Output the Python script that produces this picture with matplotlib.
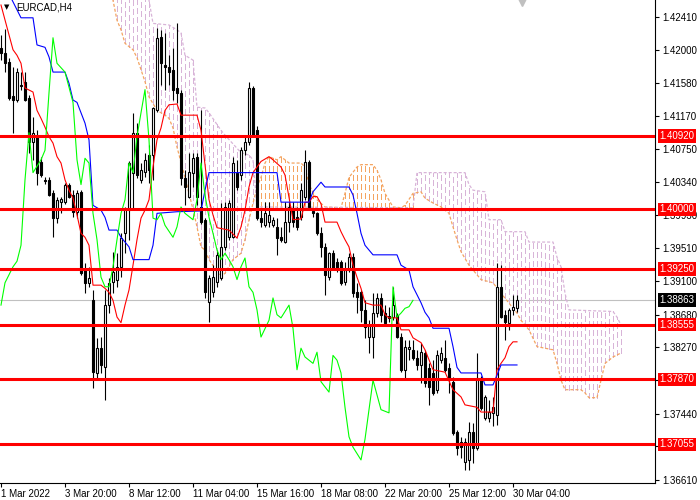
import numpy as np
import matplotlib
matplotlib.use("Agg")
import matplotlib.pyplot as plt
from matplotlib.lines import Line2D

plt.rcParams['font.family'] = ['Liberation Sans', 'DejaVu Sans']
plt.rcParams['lines.scale_dashes'] = False

symbol = "EURCAD,H4"

opens = [1.42022, 1.41958, 1.41846, 1.41420, 1.41370, 1.41546, 1.41596, 1.41395, 1.40844, 1.40906,
         1.40593, 1.40368, 1.40368, 1.40204, 1.39892, 1.40092, 1.40092, 1.40305, 1.40179, 1.39967,
         1.40217, 1.39240, 1.39077, 1.38864, 1.37949, 1.38263, 1.38024, 1.38801, 1.39090, 1.39115,
         1.39277, 1.39703, 1.39992, 1.40455, 1.40956, 1.40368, 1.40468, 1.40680, 1.40680, 1.41245,
         1.42159, 1.41808, 1.41783, 1.41746, 1.41521, 1.41457, 1.40393, 1.40154, 1.40455, 1.40655,
         1.40029, 1.39866, 1.38839, 1.38964, 1.39090, 1.39140, 1.39528, 1.39653, 1.39653, 1.40455,
         1.40430, 1.40743, 1.40844, 1.41521, 1.40994, 1.39892, 1.39803, 1.39841, 1.39803, 1.39778,
         1.39653, 1.39591, 1.39841, 1.40017, 1.39904, 1.39904, 1.40154, 1.40593, 1.39979, 1.39954,
         1.39703, 1.39528, 1.39152, 1.39452, 1.39340, 1.39340, 1.39090, 1.39240, 1.39402, 1.38964,
         1.38964, 1.38739, 1.38400, 1.38400, 1.38701, 1.38889, 1.38701, 1.38664, 1.38651, 1.38676,
         1.38400, 1.37987, 1.38250, 1.38237, 1.38137, 1.38049, 1.38199, 1.38012, 1.37949, 1.37736,
         1.38112, 1.38137, 1.38012, 1.37837, 1.37210, 1.37085, 1.36834, 1.36859, 1.37210, 1.37010,
         1.37887, 1.37385, 1.37385, 1.37448, 1.37423, 1.39027, 1.38676, 1.38575, 1.38739, 1.38764]
highs = [1.42184, 1.42259, 1.41896, 1.41783, 1.41771, 1.41721, 1.41721, 1.41432, 1.41157, 1.40994,
         1.40655, 1.40405, 1.40405, 1.40242, 1.40154, 1.40154, 1.40330, 1.40330, 1.40242, 1.40242,
         1.40242, 1.39327, 1.39277, 1.38989, 1.38388, 1.38400, 1.38989, 1.39140, 1.39465, 1.39452,
         1.39703, 1.40029, 1.40600, 1.41207, 1.41081, 1.40580, 1.40705, 1.40806, 1.41282, 1.42272,
         1.42247, 1.42209, 1.41933, 1.42022, 1.42334, 1.41495, 1.40493, 1.40705, 1.40705, 1.40705,
         1.41245, 1.39892, 1.39177, 1.39302, 1.39490, 1.40079, 1.40092, 1.40117, 1.40655, 1.40618,
         1.40781, 1.40931, 1.41596, 1.41546, 1.41044, 1.39992, 1.40092, 1.40092, 1.39904, 1.39892,
         1.39778, 1.40092, 1.40092, 1.40092, 1.40029, 1.40330, 1.40743, 1.40618, 1.40017, 1.39967,
         1.39778, 1.39578, 1.39465, 1.39490, 1.39390, 1.39365, 1.39340, 1.39452, 1.39452, 1.39077,
         1.38989, 1.38864, 1.38613, 1.38951, 1.38951, 1.38951, 1.38801, 1.38776, 1.39027, 1.38701,
         1.38450, 1.38363, 1.38363, 1.38363, 1.38237, 1.38325, 1.38237, 1.38074, 1.38112, 1.38237,
         1.38275, 1.38363, 1.38074, 1.37899, 1.37235, 1.37148, 1.37135, 1.37335, 1.37323, 1.38199,
         1.37912, 1.37673, 1.37611, 1.37648, 1.39327, 1.39302, 1.38739, 1.38764, 1.38926, 1.38926]
lows = [1.41871, 1.41721, 1.41370, 1.40956, 1.41345, 1.41495, 1.41357, 1.40705, 1.40618, 1.40305,
        1.40405, 1.40318, 1.40167, 1.39653, 1.39828, 1.39954, 1.40067, 1.40142, 1.39904, 1.39892,
        1.39177, 1.38951, 1.39027, 1.37762, 1.37862, 1.37949, 1.37611, 1.38701, 1.38951, 1.39027,
        1.39152, 1.39452, 1.39616, 1.39992, 1.40393, 1.40330, 1.40405, 1.40330, 1.40368, 1.41220,
        1.41558, 1.41495, 1.41558, 1.41370, 1.41332, 1.40305, 1.40054, 1.40142, 1.40280, 1.40054,
        1.39816, 1.38889, 1.38588, 1.38901, 1.39027, 1.39115, 1.39490, 1.39616, 1.39641, 1.40242,
        1.40368, 1.40680, 1.40806, 1.40906, 1.39866, 1.39778, 1.39778, 1.39778, 1.39778, 1.39427,
        1.39591, 1.39578, 1.39716, 1.39778, 1.39741, 1.39866, 1.40117, 1.39992, 1.39904, 1.39678,
        1.39402, 1.38926, 1.39115, 1.39240, 1.39215, 1.39052, 1.39052, 1.39215, 1.38901, 1.38701,
        1.38588, 1.38388, 1.38199, 1.38137, 1.38651, 1.38588, 1.38550, 1.38588, 1.38613, 1.38388,
        1.37962, 1.37862, 1.38112, 1.38112, 1.37987, 1.37824, 1.37774, 1.37548, 1.37673, 1.37698,
        1.38074, 1.37962, 1.37698, 1.37172, 1.36922, 1.36884, 1.36734, 1.36734, 1.36822, 1.36985,
        1.37486, 1.37360, 1.37335, 1.37285, 1.37298, 1.38639, 1.38363, 1.38488, 1.38676, 1.38714]
closes = [1.41958, 1.41833, 1.41395, 1.41370, 1.41721, 1.41558, 1.41370, 1.40844, 1.40956, 1.40455,
          1.40430, 1.40355, 1.40179, 1.39892, 1.40117, 1.40129, 1.40305, 1.40154, 1.39967, 1.40204,
          1.39202, 1.39077, 1.39140, 1.37962, 1.38263, 1.38049, 1.38801, 1.39077, 1.39215, 1.39277,
          1.39641, 1.40004, 1.40580, 1.40956, 1.40430, 1.40493, 1.40618, 1.40493, 1.41270, 1.42147,
          1.41833, 1.41783, 1.41721, 1.41495, 1.41457, 1.40393, 1.40280, 1.40468, 1.40643, 1.40154,
          1.39841, 1.38964, 1.39140, 1.39152, 1.39427, 1.39528, 1.40029, 1.40079, 1.40580, 1.40280,
          1.40743, 1.40844, 1.41521, 1.40931, 1.39892, 1.39841, 1.39954, 1.39929, 1.39866, 1.39641,
          1.39616, 1.39841, 1.40029, 1.39841, 1.39778, 1.40242, 1.40593, 1.40029, 1.39954, 1.39703,
          1.39528, 1.39177, 1.39452, 1.39265, 1.39265, 1.39077, 1.39240, 1.39402, 1.38951, 1.38901,
          1.38739, 1.38525, 1.38550, 1.38701, 1.38889, 1.38676, 1.38575, 1.38639, 1.38801, 1.38400,
          1.37987, 1.38275, 1.38275, 1.38137, 1.38049, 1.38212, 1.37824, 1.37774, 1.37698, 1.38174,
          1.38199, 1.37987, 1.37862, 1.37197, 1.37010, 1.37022, 1.37085, 1.37210, 1.37010, 1.37887,
          1.37511, 1.37648, 1.37461, 1.37523, 1.39027, 1.38651, 1.38588, 1.38739, 1.38776, 1.38863]

# Ichimoku lines (vertices: bar index, price)
tenkan_x = [0, 3, 4, 5, 6, 8, 9, 10, 11, 12, 13, 14, 15, 16, 17, 18, 19, 20, 21, 22, 23, 25, 26, 27, 28,
            29, 30, 31, 32, 33, 34, 35, 36, 37, 38, 39, 40, 41, 42, 44, 45, 49, 50, 51, 52, 53, 54, 57,
            59, 60, 61, 62, 63, 65, 67, 68, 70, 71, 72, 73, 75, 76, 77, 78, 79, 80, 81, 84, 85, 86, 87,
            88, 89, 90, 91, 93, 95, 96, 97, 99, 100, 102, 103, 105, 106, 108, 111, 113, 115, 116, 119,
            120, 123, 124, 125, 126, 127, 128, 129]
tenkan_v = [1.4256, 1.4200, 1.4193, 1.4183, 1.4152, 1.4147, 1.4124, 1.4114, 1.4103, 1.4091, 1.4083,
            1.4066, 1.4058, 1.4037, 1.4024, 1.4014, 1.3993, 1.3970, 1.3965, 1.3955, 1.3905, 1.3905,
            1.3901, 1.3896, 1.3886, 1.3865, 1.3858, 1.3880, 1.3899, 1.3930, 1.3962, 1.3989, 1.3999,
            1.4012, 1.4053, 1.4087, 1.4102, 1.4124, 1.4131, 1.4132, 1.4118, 1.4118, 1.4099, 1.4056,
            1.4012, 1.3993, 1.3977, 1.3974, 1.3964, 1.3978, 1.3999, 1.4028, 1.4046, 1.4060, 1.4066,
            1.4062, 1.4053, 1.4043, 1.4015, 1.3987, 1.3988, 1.4009, 1.4009, 1.4016, 1.4016, 1.4007,
            1.3984, 1.3984, 1.3972, 1.3962, 1.3953, 1.3930, 1.3915, 1.3901, 1.3883, 1.3880, 1.3880,
            1.3868, 1.3864, 1.3864, 1.3849, 1.3849, 1.3839, 1.3833, 1.3824, 1.3799, 1.3796, 1.3774,
            1.3765, 1.3755, 1.3752, 1.3746, 1.3746, 1.3799, 1.3807, 1.3814, 1.3828, 1.3834, 1.3834]
kijun_x = [2, 5, 8, 9, 11, 12, 13, 16, 17, 18, 19, 20, 21, 22, 23, 25, 26, 27, 29, 30, 32, 33, 37, 38,
           39, 44, 50, 51, 52, 69, 70, 77, 78, 80, 81, 87, 88, 89, 90, 91, 93, 99, 100, 102, 103, 105,
           106, 107, 108, 112, 113, 114, 115, 120, 121, 123, 124, 125, 129]
kijun_v = [1.4270, 1.4240, 1.4240, 1.4206, 1.4203, 1.4191, 1.4172, 1.4172, 1.4158, 1.4137, 1.4134,
           1.4121, 1.4108, 1.4087, 1.4005, 1.3999, 1.3990, 1.3974, 1.3974, 1.3965, 1.3953, 1.3937,
           1.3937, 1.3955, 1.3995, 1.3997, 1.3998, 1.4024, 1.4046, 1.4046, 1.4009, 1.4009, 1.4022,
           1.4034, 1.4028, 1.4028, 1.4018, 1.3995, 1.3970, 1.3955, 1.3943, 1.3943, 1.3930, 1.3924,
           1.3903, 1.3883, 1.3871, 1.3864, 1.3851, 1.3851, 1.3828, 1.3802, 1.3795, 1.3795, 1.3780,
           1.3780, 1.3792, 1.3805, 1.3805]
chikou_x = [0, 1, 3, 4, 5, 6, 7, 8, 10, 11, 12, 13, 14, 16, 17, 18, 19, 20, 21, 22, 23, 24, 25, 26, 27,
            28, 29, 30, 31, 32, 33, 34, 35, 36, 37, 38, 39, 40, 41, 43, 44, 45, 46, 48, 49, 50, 51, 52,
            53, 54, 55, 56, 57, 58, 59, 60, 61, 62, 63, 64, 65, 67, 68, 69, 70, 72, 73, 74, 75, 76, 78,
            79, 80, 82, 83, 84, 85, 86, 87, 88, 90, 91, 93, 95, 97, 98, 99, 100, 101, 102, 103]
chikou_v = [1.3880, 1.3908, 1.3928, 1.3935, 1.3955, 1.4037, 1.4096, 1.4046, 1.4062, 1.4074, 1.4146,
            1.4215, 1.4183, 1.4172, 1.4153, 1.4134, 1.4062, 1.4031, 1.4064, 1.4058, 1.3995, 1.3962,
            1.3915, 1.3903, 1.3903, 1.3928, 1.3962, 1.3995, 1.4012, 1.4058, 1.4046, 1.4091, 1.4121,
            1.4150, 1.4087, 1.3989, 1.3987, 1.3995, 1.3980, 1.3965, 1.3978, 1.4003, 1.3995, 1.3987,
            1.4012, 1.4058, 1.4018, 1.3990, 1.3970, 1.3949, 1.3937, 1.3945, 1.3937, 1.3928, 1.3912,
            1.3928, 1.3939, 1.3903, 1.3896, 1.3874, 1.3840, 1.3861, 1.3889, 1.3868, 1.3864, 1.3880,
            1.3851, 1.3799, 1.3826, 1.3815, 1.3807, 1.3821, 1.3784, 1.3771, 1.3817, 1.3811, 1.3795,
            1.3752, 1.3715, 1.3702, 1.3686, 1.3712, 1.3786, 1.3749, 1.3745, 1.3903, 1.3865, 1.3870,
            1.3876, 1.3878, 1.3886]
span_a_x = [27, 28, 29, 30, 31, 33, 34, 35, 36, 37, 39, 40, 41, 42, 43, 44, 46, 48, 49, 50, 51, 52, 55,
            56, 58, 60, 61, 62, 64, 65, 66, 67, 69, 70, 72, 75, 76, 77, 79, 81, 85, 86, 87, 89, 90, 93,
            94, 95, 96, 98, 100, 101, 103, 105, 106, 108, 110, 112, 113, 114, 115, 117, 120, 123, 125,
            129, 130, 132, 134, 138, 139, 140, 141, 145, 146, 147, 149, 150, 151, 153, 155]
span_a_v = [1.4275, 1.4262, 1.4237, 1.4225, 1.4208, 1.4200, 1.4190, 1.4175, 1.4160, 1.4141, 1.4124,
            1.4121, 1.4118, 1.4114, 1.4102, 1.4078, 1.4040, 1.4000, 1.3978, 1.3953, 1.3949, 1.3937,
            1.3915, 1.3920, 1.3937, 1.3945, 1.3962, 1.3987, 1.4028, 1.4040, 1.4058, 1.4066, 1.4062,
            1.4066, 1.4058, 1.4058, 1.4053, 1.4031, 1.4012, 1.4003, 1.4002, 1.4020, 1.4040, 1.4053,
            1.4056, 1.4056, 1.4049, 1.4037, 1.4020, 1.4003, 1.4002, 1.4005, 1.4020, 1.4022, 1.4014,
            1.4008, 1.4003, 1.3995, 1.3978, 1.3962, 1.3947, 1.3930, 1.3912, 1.3908, 1.3895, 1.3870,
            1.3861, 1.3849, 1.3828, 1.3824, 1.3807, 1.3786, 1.3774, 1.3774, 1.3770, 1.3764, 1.3764,
            1.3786, 1.3807, 1.3815, 1.3820]
span_b_x = [27, 36, 37, 38, 42, 44, 45, 46, 48, 49, 51, 52, 55, 56, 60, 62, 63, 64, 103, 104, 116, 117,
            118, 121, 122, 125, 126, 131, 132, 138, 139, 140, 141, 142, 153, 154, 155]
span_b_v = [1.4300, 1.4275, 1.4262, 1.4233, 1.4231, 1.4225, 1.4221, 1.4193, 1.4187, 1.4128, 1.4127,
            1.4121, 1.4099, 1.4093, 1.4071, 1.4068, 1.4062, 1.4003, 1.4002, 1.4046, 1.4046, 1.4031,
            1.4024, 1.4022, 1.3987, 1.3987, 1.3972, 1.3972, 1.3959, 1.3959, 1.3940, 1.3928, 1.3895,
            1.3874, 1.3872, 1.3865, 1.3855]

levels = [1.40920, 1.40000, 1.39250, 1.38555, 1.37870, 1.37055]
last_price = 1.38863
price_ticks = [1.42410, 1.42000, 1.41580, 1.41170, 1.40750, 1.40340, 1.39930, 1.39510, 1.39100,
               1.38680, 1.38270, 1.37860, 1.37440, 1.37030, 1.36610]
hidden_ticks = [1.37860, 1.37030]   # covered by the level labels on the price scale
time_ticks = [0, 16, 32, 48, 64, 80, 96, 112, 128]
time_labels = ["1 Mar 2022", "3 Mar 20:00", "8 Mar 12:00", "11 Mar 04:00", "15 Mar 16:00",
               "18 Mar 08:00", "22 Mar 20:00", "25 Mar 12:00", "30 Mar 04:00"]

# ---------------------------------------------------------------
fig = plt.figure(figsize=(7, 5), dpi=100)
ax = fig.add_axes([0, 17 / 500, 655 / 700, 483 / 500])
ax.set_xlim(-0.25, 163.5)
ax.set_ylim(1.36571, 1.42623)

for s in ['top', 'left']:
    ax.spines[s].set_visible(False)
for s in ['right', 'bottom']:
    ax.spines[s].set_linewidth(0.8)
    ax.spines[s].set_color('black')

# cloud hatch
xs = np.arange(span_a_x[0], span_a_x[-1] + 1)
a = np.interp(xs, span_a_x, span_a_v)
b = np.interp(xs, span_b_x, span_b_v)
bull = a >= b
dash = [(0, (3.6, 2.2))]
ax.vlines(xs[bull], b[bull], a[bull], colors='#F4A460', linewidth=0.72, linestyles=dash,
          zorder=1.5, antialiased=False)
ax.vlines(xs[~bull], a[~bull], b[~bull], colors='#D8B4D8', linewidth=0.72, linestyles=dash,
          zorder=1.5, antialiased=False)
ax.plot(span_a_x, span_a_v, color='#F4A460', lw=0.9, ls=(0, (2.2, 1.4)), zorder=1.6)
ax.plot(span_b_x, span_b_v, color='#D8B4D8', lw=0.9, ls=(0, (2.2, 1.4)), zorder=1.6)

# current price line
ax.axhline(last_price, color='#C0C0C0', lw=0.8, zorder=1)

# candles
o = np.array(opens); h = np.array(highs); l = np.array(lows); c = np.array(closes)
x = np.arange(len(o))
up = c >= o
ax.vlines(x, l, h, color='black', lw=0.8, zorder=3)
ax.bar(x[up], np.maximum(c - o, 0.00003)[up], bottom=o[up], width=0.55,
       facecolor='white', edgecolor='black', linewidth=0.8, zorder=4)
ax.bar(x[~up], (o - c)[~up], bottom=c[~up], width=0.55,
       facecolor='black', edgecolor='black', linewidth=0.8, zorder=4)

# ichimoku lines
ax.plot(tenkan_x, tenkan_v, color='#FF0000', lw=0.8, zorder=5)
ax.plot(kijun_x, kijun_v, color='#0000FF', lw=0.8, zorder=5)
ax.plot(chikou_x, chikou_v, color='#00FF00', lw=0.8, zorder=5)

# horizontal levels
for v in levels:
    ax.axhline(v, color='#FF0000', lw=2.2, zorder=6)
    ax.annotate(f"{v:.5f}", xy=(1, v), xycoords=('axes fraction', 'data'),
                xytext=(3.3, 0), textcoords='offset points', va='center', ha='left',
                fontsize=7, color='white', annotation_clip=False, zorder=10,
                bbox=dict(boxstyle='square,pad=0.18', fc='#FF0000', ec='none'))
ax.annotate(f"{last_price:.5f}", xy=(1, last_price), xycoords=('axes fraction', 'data'),
            xytext=(3.3, 0), textcoords='offset points', va='center', ha='left',
            fontsize=7, color='white', annotation_clip=False, zorder=10,
            bbox=dict(boxstyle='square,pad=0.18', fc='black', ec='none'))

# axes ticks
ax.yaxis.tick_right()
ax.set_yticks(price_ticks)
ax.set_yticklabels(["" if v in hidden_ticks else f"{v:.5f}" for v in price_ticks])
ax.tick_params(axis='y', direction='out', length=3, width=0.8, pad=2, labelsize=7, colors='black')
ax.set_xticks(time_ticks)
ax.set_xticklabels(time_labels, ha='left')
ax.tick_params(axis='x', direction='out', length=3, width=0.8, pad=1.5, labelsize=7, colors='black')

# title and markers
fig.text(16 / 700, 1 - 2 / 500, symbol, fontsize=7, va='top', ha='left', color='black')
fig.text(4 / 700, 1 - 4 / 500, '\u25BC', fontsize=5, va='top', ha='left', color='black',
         family='DejaVu Sans')
fig.add_artist(Line2D([522 / 700], [1 - 2 / 500], marker='v', markersize=6, color='#C0C0C0',
                      transform=fig.transFigure))

fig.savefig('out.png', dpi=100)
